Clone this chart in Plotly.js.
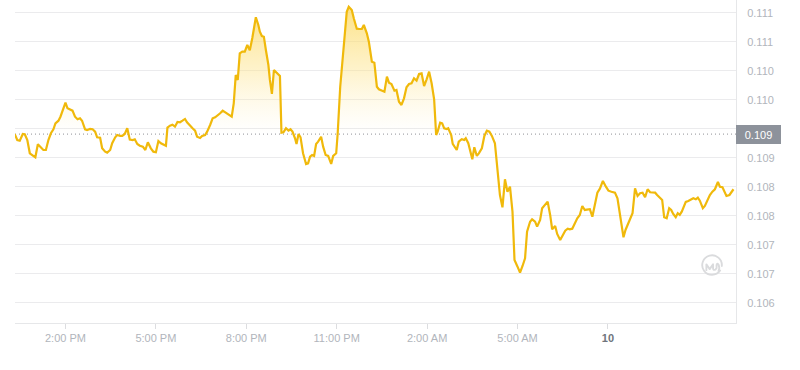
<!DOCTYPE html>
<html>
<head>
<meta charset="utf-8">
<script src="https://cdn.plot.ly/plotly-3.0.1.min.js"></script>
<style>
  html, body { margin: 0; padding: 0; background: #ffffff; }
  #chart { width: 800px; height: 370px; }
</style>
</head>
<body>
<div id="chart"></div>
<script>
// Minutes after 12:00 on the first day, one entry per price sample
const minutes = [
  19, 24, 29, 35, 39, 44, 49, 55, 60, 65, 71, 76, 81, 86, 91, 96, 100, 106, 110, 116,
  120, 124, 129, 134, 139, 144, 149, 153, 159, 163, 169, 174, 179, 183, 189, 193, 199, 203, 209, 213,
  219, 223, 229, 233, 238, 243, 248, 254, 258, 263, 268, 274, 279, 284, 290, 295, 300, 305, 310, 315,
  320, 323, 328, 333, 338, 343, 348, 353, 358, 362, 368, 373, 378, 382, 388, 392, 398, 402, 408, 413,
  418, 422, 428, 433, 438, 442, 448, 451, 455, 459, 463, 467, 472, 477, 482, 487, 492, 499, 504, 507,
  511, 515, 519, 524, 527, 531, 535, 539, 544, 547, 550, 554, 559, 564, 568, 572, 577, 580, 584, 588,
  593, 599, 603, 607, 611, 615, 619, 623, 629, 633, 638, 643, 649, 653, 659, 662, 667, 672, 676, 680,
  684, 690, 694, 700, 705, 710, 714, 720, 724, 730, 735, 740, 744, 750, 755, 760, 764, 769, 775, 779,
  784, 789, 794, 799, 804, 809, 814, 819, 824, 829, 834, 839, 844, 849, 854, 858, 861, 866, 870, 874,
  879, 882, 888, 891, 895, 899, 903, 909, 914, 917, 922, 926, 930, 934, 939, 943, 949, 954, 959, 964,
  969, 975, 980, 985, 990, 995, 1000, 1005, 1010, 1014, 1020, 1025, 1030, 1035, 1039, 1045, 1049, 1055, 1059, 1065,
  1069, 1075, 1080, 1085, 1089, 1095, 1099, 1105, 1110, 1115, 1120, 1124, 1129, 1134, 1139, 1144, 1149, 1154, 1159, 1164,
  1169, 1174, 1179, 1184, 1190, 1196, 1201, 1207, 1214, 1219, 1223, 1227, 1231, 1235, 1241, 1245, 1249, 1254, 1259, 1264,
  1269, 1274, 1279, 1284, 1288, 1294, 1298, 1304, 1308, 1312, 1317, 1322, 1326, 1330, 1335, 1339, 1343, 1347, 1350, 1355,
  1360, 1365, 1370, 1375, 1379, 1383, 1389, 1393, 1399, 1403, 1408, 1413, 1419, 1423, 1428, 1432, 1436, 1442, 1446, 1450
];

// Price in USD at each sample
const prices = [
  0.108912, 0.108810, 0.108798, 0.108914, 0.108909, 0.108810, 0.108581, 0.108547, 0.108512, 0.108736,
  0.108685, 0.108638, 0.108638, 0.108810, 0.108926, 0.108995, 0.109098, 0.109143, 0.109212, 0.109357,
  0.109454, 0.109357, 0.109340, 0.109316, 0.109212, 0.109167, 0.109185, 0.109143, 0.108995, 0.108983,
  0.109000, 0.108995, 0.108954, 0.108857, 0.108850, 0.108667, 0.108609, 0.108592, 0.108638, 0.108754,
  0.108857, 0.108897, 0.108880, 0.108880, 0.108914, 0.109012, 0.108819, 0.108810, 0.108823, 0.108742,
  0.108712, 0.108695, 0.108638, 0.108771, 0.108667, 0.108609, 0.108599, 0.108793, 0.108754, 0.108736,
  0.108712, 0.109023, 0.109057, 0.109074, 0.109040, 0.109121, 0.109116, 0.109143, 0.109173, 0.109116,
  0.109052, 0.109012, 0.108971, 0.108867, 0.108845, 0.108880, 0.108897, 0.108954, 0.109069, 0.109185,
  0.109202, 0.109224, 0.109271, 0.109316, 0.109288, 0.109259, 0.109236, 0.109212, 0.109443, 0.109931,
  0.109845, 0.110305, 0.110333, 0.110333, 0.110448, 0.110357, 0.110569, 0.110926, 0.110793, 0.110678,
  0.110603, 0.110591, 0.110362, 0.110103, 0.109845, 0.109604, 0.110017, 0.109988, 0.109948, 0.109914,
  0.108936, 0.108943, 0.109012, 0.108971, 0.108995, 0.108954, 0.108840, 0.108742, 0.108914, 0.108857,
  0.108581, 0.108397, 0.108409, 0.108523, 0.108552, 0.108535, 0.108742, 0.108781, 0.108867, 0.108695,
  0.108552, 0.108535, 0.108397, 0.108535, 0.108581, 0.108926, 0.109729, 0.110190, 0.110678, 0.111022,
  0.111109, 0.111052, 0.110909, 0.110729, 0.110724, 0.110724, 0.110793, 0.110650, 0.110505, 0.110160,
  0.110143, 0.109729, 0.109685, 0.109660, 0.109643, 0.109902, 0.109798, 0.109776, 0.109660, 0.109672,
  0.109471, 0.109414, 0.109529, 0.109719, 0.109776, 0.109788, 0.109874, 0.109833, 0.109948, 0.109960,
  0.109741, 0.109857, 0.109988, 0.109788, 0.109512, 0.108897, 0.108954, 0.109109, 0.109098, 0.109012,
  0.109000, 0.109012, 0.108897, 0.108742, 0.108695, 0.108638, 0.108781, 0.108823, 0.108810, 0.108840,
  0.108754, 0.108638, 0.108478, 0.108685, 0.108535, 0.108581, 0.108667, 0.108880, 0.108971, 0.108954,
  0.108880, 0.108754, 0.108323, 0.107862, 0.107650, 0.108133, 0.107919, 0.108005, 0.107574, 0.106742,
  0.106626, 0.106523, 0.106638, 0.106771, 0.107230, 0.107402, 0.107443, 0.107402, 0.107316, 0.107431,
  0.107633, 0.107690, 0.107747, 0.107518, 0.107271, 0.107328, 0.107190, 0.107087, 0.107156, 0.107247,
  0.107281, 0.107271, 0.107281, 0.107374, 0.107461, 0.107518, 0.107673, 0.107604, 0.107604, 0.107616,
  0.107488, 0.107690, 0.107902, 0.107971, 0.108104, 0.108005, 0.107936, 0.107919, 0.107902, 0.107805,
  0.107574, 0.107316, 0.107133, 0.107259, 0.107374, 0.107443, 0.107547, 0.107978, 0.107845, 0.107892,
  0.107902, 0.107823, 0.107961, 0.107909, 0.107909, 0.107902, 0.107862, 0.107805, 0.107776, 0.107478,
  0.107461, 0.107633, 0.107604, 0.107535, 0.107478, 0.107547, 0.107518, 0.107574, 0.107633, 0.107742,
  0.107759, 0.107776, 0.107805, 0.107788, 0.107816, 0.107764, 0.107633, 0.107673, 0.107776, 0.107862,
  0.107919, 0.107961, 0.108086, 0.108005, 0.107995, 0.107919, 0.107845, 0.107862, 0.107902, 0.107961
];

// Time axis ticks (minutes after 12:00 on the first day)
const timeTicks = [120, 300, 480, 660, 840, 1020, 1200];
const timeLabels = ['2:00 PM', '5:00 PM', '8:00 PM', '11:00 PM', '2:00 AM', '5:00 AM',
                    '<span style="color:#70747c"><b>10</b></span>'];

// Price axis ticks
const priceTicks = [0.106, 0.1065, 0.107, 0.1075, 0.108, 0.1085, 0.109, 0.1095, 0.110, 0.1105, 0.111];
const priceLabels = ['0.106', '0.107', '0.107', '0.108', '0.108', '0.109', '', '0.110', '0.110', '0.111', '0.111'];

// Reference level: the opening price of the period
const openPrice = prices[0];
const peakPrice = Math.max(...prices);

const gold = '#f0b90b';
const labelGrey = '#b1b5bc';

const fillTrace = {
  x: minutes,
  y: prices,
  type: 'scatter',
  mode: 'lines',
  line: { width: 0 },
  fill: 'tozeroy',
  fillgradient: {
    type: 'vertical',
    start: openPrice,
    stop: peakPrice,
    colorscale: [
      [0, 'rgba(254,240,190,0)'],
      [0.5, 'rgba(253,228,140,0.45)'],
      [1, 'rgba(252,215,90,0.75)']
    ]
  },
  hoverinfo: 'skip',
  showlegend: false
};

const priceTrace = {
  x: minutes,
  y: prices,
  type: 'scatter',
  mode: 'lines',
  line: { color: gold, width: 2.2, shape: 'linear' },
  hoverinfo: 'skip',
  showlegend: false
};

// Watermark logo as inline SVG
const logoSvg =
  '<svg xmlns="http://www.w3.org/2000/svg" viewBox="0 0 24 24">' +
  '<g fill="none" stroke="#dadbdd" stroke-width="1.8" stroke-linecap="round" stroke-linejoin="round">' +
  '<path d="M19.8 16.4 A9.4 9.4 0 1 1 21.4 12"/>' +
  '<path d="M6.6 16 V10.4 L9.8 15 L13 10.4 V14.4 Q13.2 16.4 15.2 15.4 L16.4 14 V11 Q16.8 8.6 18.2 10.6 Q19.8 13.8 18.2 17"/>' +
  '</g></svg>';

const layout = {
  width: 800,
  height: 370,
  margin: { l: 15, r: 64, t: 0, b: 47, pad: 0 },
  paper_bgcolor: '#ffffff',
  plot_bgcolor: '#ffffff',
  font: { family: 'Liberation Sans, Arial, sans-serif', size: 11, color: labelGrey },
  xaxis: {
    range: [19.5, 1455],
    tickvals: timeTicks,
    ticktext: timeLabels,
    showgrid: false,
    zeroline: false,
    showline: true,
    linecolor: '#e6e7e9',
    linewidth: 1,
    ticks: 'outside',
    ticklen: 5,
    tickwidth: 1,
    tickcolor: '#dcdde0',
    tickfont: { size: 11, color: labelGrey },
    fixedrange: true
  },
  yaxis: {
    side: 'right',
    range: [0.105655, 0.111224],
    tickvals: priceTicks,
    ticktext: priceLabels,
    showgrid: true,
    gridcolor: '#ebebed',
    gridwidth: 1,
    zeroline: false,
    showline: true,
    linecolor: '#e6e7e9',
    linewidth: 1,
    ticks: '',
    ticklabelstandoff: 8,
    tickfont: { size: 11, color: labelGrey },
    fixedrange: true
  },
  shapes: [
    {
      type: 'line',
      xref: 'paper', x0: 0, x1: 1,
      yref: 'y', y0: openPrice, y1: openPrice,
      line: { color: '#8f9196', width: 1, dash: '1px,3px' },
      layer: 'below'
    }
  ],
  annotations: [
    {
      xref: 'paper', x: 1, xanchor: 'left',
      yref: 'y', y: openPrice, yanchor: 'middle',
      text: openPrice.toFixed(3),
      showarrow: false,
      bgcolor: '#8d929b',
      font: { color: '#ffffff', size: 11, family: 'Liberation Sans, Arial, sans-serif' },
      width: 45,
      height: 19,
      align: 'center',
      valign: 'middle',
      borderpad: 0,
      borderwidth: 0
    }
  ],
  images: [
    {
      source: 'data:image/svg+xml;utf8,' + encodeURIComponent(logoSvg),
      xref: 'paper', yref: 'paper',
      x: (712 - 15) / 721, y: 1 - 266 / 323,
      sizex: 25 / 721, sizey: 25 / 323,
      xanchor: 'center', yanchor: 'middle',
      sizing: 'contain',
      layer: 'above'
    }
  ]
};

Plotly.newPlot('chart', [fillTrace, priceTrace], layout, { staticPlot: true, displayModeBar: false });
</script>
</body>
</html>
